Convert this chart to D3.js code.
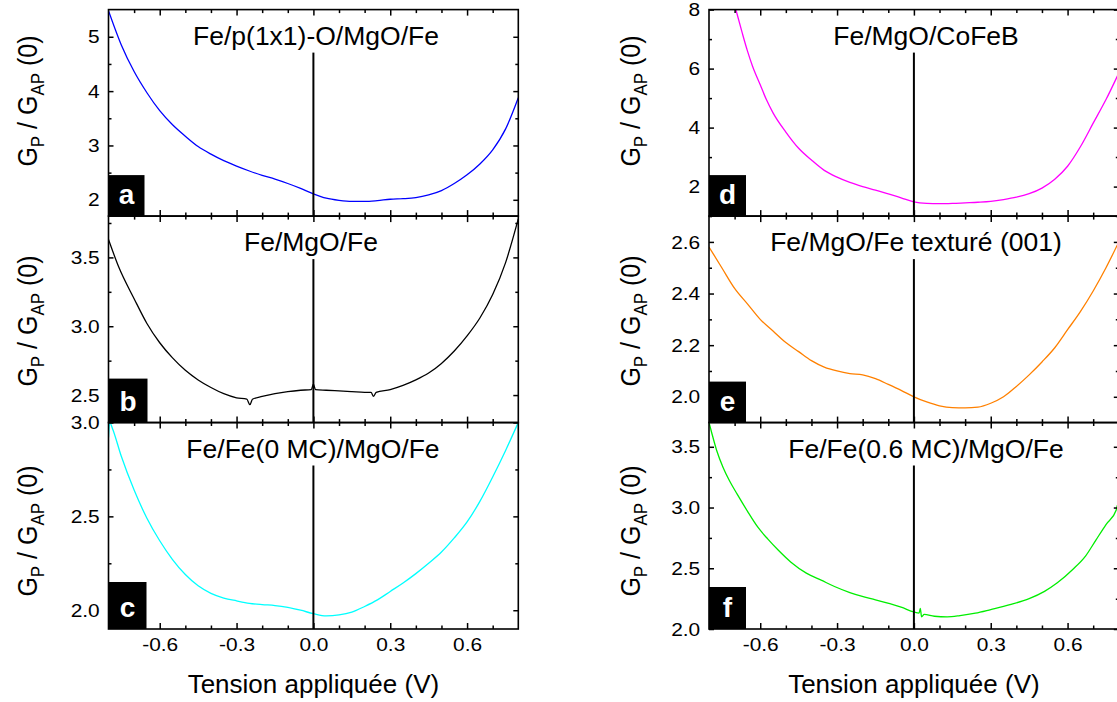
<!DOCTYPE html>
<html><head><meta charset="utf-8">
<script src="https://cdn.jsdelivr.net/npm/d3@7"></script>
<style>
body{margin:0;background:#fff}
text{font-family:"Liberation Sans",Arial,sans-serif;fill:#000}
</style></head>
<body><svg id="chart" width="1117" height="702"></svg>
<script>
// ---------------- DATA ----------------
const xDomain = [-0.8, 0.8];
const xTickValues = [-0.6, -0.3, 0.0, 0.3, 0.6];
const xMinorValues = [-0.7, -0.5, -0.4, -0.2, -0.1, 0.1, 0.2, 0.4, 0.5, 0.7];
const xAxisLabel = "Tension appliquée (V)";

const titles = ["Fe/p(1x1)-O/MgO/Fe", "Fe/MgO/Fe", "Fe/Fe(0 MC)/MgO/Fe",
                "Fe/MgO/CoFeB", "Fe/MgO/Fe texturé (001)", "Fe/Fe(0.6 MC)/MgO/Fe"];
const panelLetters = ["a", "b", "c", "d", "e", "f"];

const yDomainA = [1.7, 5.5],  yTicksA = [2, 3, 4, 5],         yMinorA = [2.5, 3.5, 4.5];
const yDomainB = [2.3, 3.8],  yTicksB = [2.5, 3.0, 3.5],      yMinorB = [2.75, 3.25, 3.75];
const yDomainC = [1.9, 3.0],  yTicksC = [2.0, 2.5, 3.0],      yMinorC = [2.25, 2.75];
const yDomainD = [1, 8],      yTicksD = [2, 4, 6, 8],         yMinorD = [1, 3, 5, 7];
const yDomainE = [1.9, 2.7],  yTicksE = [2.0, 2.2, 2.4, 2.6], yMinorE = [2.1, 2.3, 2.5];
const yDomainF = [2.0, 3.7],  yTicksF = [2.0, 2.5, 3.0, 3.5], yMinorF = [2.25, 2.75, 3.25];

// curves: [V, GP/GAP(0)]
const curveA = [[-0.8,5.48],[-0.75,4.85],[-0.7,4.36],[-0.65,3.97],[-0.6,3.64],[-0.55,3.38],[-0.5,3.17],
 [-0.45,2.98],[-0.4,2.84],[-0.35,2.72],[-0.3,2.62],[-0.25,2.53],[-0.2,2.45],[-0.15,2.38],
 [-0.1,2.30],[-0.05,2.21],[0,2.11],[0.05,2.03],[0.1,1.99],[0.15,1.97],[0.2,1.97],[0.25,1.985],[0.3,2.01],
 [0.35,2.02],[0.4,2.04],[0.45,2.09],[0.5,2.17],[0.55,2.30],[0.6,2.46],[0.65,2.66],[0.7,2.92],[0.75,3.30],[0.8,3.88]];
const curveB = [[-0.8,3.63],[-0.76,3.43],[-0.7,3.20],[-0.65,3.02],[-0.6,2.88],[-0.55,2.77],[-0.5,2.68],
 [-0.45,2.61],[-0.4,2.555],[-0.35,2.51],[-0.3,2.48],[-0.26,2.47],[-0.248,2.43],[-0.238,2.47],[-0.2,2.49],
 [-0.15,2.51],[-0.1,2.525],[-0.05,2.535],[-0.008,2.54],[0,2.58],[0.008,2.54],[0.05,2.535],[0.1,2.53],
 [0.15,2.525],[0.2,2.52],[0.225,2.52],[0.235,2.49],[0.245,2.52],[0.3,2.54],[0.35,2.57],[0.4,2.61],
 [0.45,2.66],[0.5,2.73],[0.55,2.82],[0.6,2.93],[0.65,3.06],[0.7,3.23],[0.75,3.46],[0.8,3.78]];
const curveC = [[-0.8,2.92],[-0.795,3.0],[-0.785,2.97],[-0.75,2.82],[-0.7,2.64],[-0.65,2.49],[-0.6,2.37],
 [-0.55,2.27],[-0.5,2.19],[-0.45,2.13],[-0.4,2.09],[-0.35,2.065],[-0.3,2.05],[-0.25,2.037],[-0.2,2.03],
 [-0.15,2.025],[-0.1,2.015],[-0.05,2.0],[0,1.982],[0.05,1.97],[0.1,1.975],[0.15,1.99],[0.2,2.02],
 [0.25,2.055],[0.3,2.10],[0.35,2.145],[0.4,2.195],[0.45,2.25],[0.5,2.31],[0.55,2.385],[0.6,2.47],
 [0.65,2.58],[0.7,2.71],[0.75,2.85],[0.8,3.0]];
const curveD = [[-0.72,8.8],[-0.695,8.0],[-0.67,7.2],[-0.65,6.6],[-0.63,6.08],[-0.6,5.45],[-0.576,4.95],
 [-0.55,4.5],[-0.5,3.85],[-0.45,3.3],[-0.4,2.9],[-0.35,2.55],[-0.3,2.32],[-0.25,2.14],[-0.2,2.0],
 [-0.15,1.88],[-0.1,1.75],[-0.05,1.62],[0,1.48],[0.05,1.43],[0.1,1.42],[0.15,1.43],[0.2,1.45],[0.25,1.47],
 [0.3,1.5],[0.35,1.56],[0.4,1.64],[0.45,1.76],[0.5,1.95],[0.55,2.25],[0.6,2.69],[0.65,3.35],[0.7,4.15],
 [0.75,4.95],[0.8,5.85]];
const curveE = [[-0.8,2.58],[-0.75,2.50],[-0.7,2.42],[-0.65,2.36],[-0.6,2.30],[-0.55,2.255],[-0.5,2.21],
 [-0.45,2.175],[-0.4,2.14],[-0.35,2.115],[-0.3,2.10],[-0.25,2.09],[-0.2,2.085],[-0.15,2.07],[-0.1,2.048],
 [-0.05,2.025],[0,2.0],[0.05,1.98],[0.1,1.965],[0.15,1.958],[0.2,1.957],[0.25,1.96],[0.3,1.975],
 [0.35,2.0],[0.4,2.04],[0.45,2.085],[0.5,2.135],[0.55,2.19],[0.6,2.26],[0.65,2.33],[0.7,2.41],
 [0.75,2.50],[0.8,2.60]];
const curveF = [[-0.8,3.70],[-0.79,3.62],[-0.77,3.47],[-0.745,3.33],[-0.72,3.22],[-0.69,3.11],[-0.65,2.97],
 [-0.61,2.84],[-0.57,2.74],[-0.53,2.65],[-0.48,2.55],[-0.42,2.46],[-0.36,2.40],[-0.31,2.35],[-0.25,2.30],
 [-0.205,2.27],[-0.15,2.24],[-0.098,2.21],[-0.05,2.18],[0,2.14],[0.02,2.13],[0.025,2.17],[0.03,2.10],
 [0.04,2.12],[0.08,2.105],[0.13,2.10],[0.18,2.11],[0.24,2.13],[0.3,2.16],[0.375,2.20],[0.45,2.25],
 [0.51,2.31],[0.56,2.38],[0.62,2.49],[0.67,2.60],[0.71,2.73],[0.75,2.86],[0.79,2.98],[0.795,3.02],[0.8,3.0]];

// ---------------- LAYOUT / STYLE ----------------
const colX = [108.5, 709];
const colW = 409.8;
const rowY = [9.6, 216.1, 422.5];
const rowH = 206.5;
const yLabelCenter = [101, 321, 531];
const yLabelBase = [37, 640];

const panels = [
  {col:0,row:0,data:curveA,color:"#0000ff",dom:yDomainA,ticks:yTicksA,minor:yMinorA,fmt:"d",  tx:316,bw:36,bh:41},
  {col:0,row:1,data:curveB,color:"#000000",dom:yDomainB,ticks:yTicksB,minor:yMinorB,fmt:".1f",tx:311,bw:39,bh:44},
  {col:0,row:2,data:curveC,color:"#00ffff",dom:yDomainC,ticks:yTicksC,minor:yMinorC,fmt:".1f",tx:313,bw:38,bh:47},
  {col:1,row:0,data:curveD,color:"#ff00ff",dom:yDomainD,ticks:yTicksD,minor:yMinorD,fmt:"d",  tx:926,bw:37,bh:41},
  {col:1,row:1,data:curveE,color:"#ff8000",dom:yDomainE,ticks:yTicksE,minor:yMinorE,fmt:".1f",tx:916,bw:37,bh:41},
  {col:1,row:2,data:curveF,color:"#00ee00",dom:yDomainF,ticks:yTicksF,minor:yMinorF,fmt:".1f",tx:926,bw:37,bh:42}
];

const svg = d3.select("#chart");
const tickFont = 19, tickStretch = 1.1;
const hyphenFmt = f => (v => d3.format(f)(v).replace("\u2212", "-"));

panels.forEach((p, i) => {
  const x0 = colX[p.col], y0 = rowY[p.row];
  const g = svg.append("g").attr("transform", `translate(${x0},${y0})`);
  const x = d3.scaleLinear().domain(xDomain).range([0, colW]);
  const y = d3.scaleLinear().domain(p.dom).range([rowH, 0]);

  const cid = "clip" + i;
  g.append("clipPath").attr("id", cid).append("rect").attr("width", colW).attr("height", rowH);

  // curve
  g.append("path").datum(p.data)
    .attr("clip-path", `url(#${cid})`)
    .attr("fill", "none").attr("stroke", p.color).attr("stroke-width", 1.3)
    .attr("d", d3.line().x(d => x(d[0])).y(d => y(d[1])).curve(d3.curveMonotoneX));

  // title
  g.append("text").attr("x", p.tx - x0).attr("y", 35)
    .attr("text-anchor", "middle").attr("font-size", 26.5).text(titles[i]);

  // zero line (starts below title)
  g.append("line").attr("x1", x(0)).attr("x2", x(0))
    .attr("y1", 43).attr("y2", rowH).attr("stroke", "#000").attr("stroke-width", 2);

  // axes
  const styleAxis = sel => { sel.select(".domain").remove(); sel.selectAll("line").attr("stroke","#000").attr("stroke-width",1.5); };
  const bottom = g.append("g").attr("transform", `translate(0,${rowH})`)
    .call(d3.axisBottom(x).tickValues(xTickValues).tickSize(-6).tickSizeOuter(0).tickPadding(9)
      .tickFormat(p.row === 2 ? hyphenFmt(".1f") : () => ""));
  styleAxis(bottom);
  bottom.selectAll("text").attr("font-size", tickFont).attr("font-family", "Liberation Sans, Arial, sans-serif")
    .attr("transform", `scale(${tickStretch},1)`);
  styleAxis(g.append("g").attr("transform", `translate(0,${rowH})`)
    .call(d3.axisBottom(x).tickValues(xMinorValues).tickSize(-3.5).tickSizeOuter(0).tickFormat(() => "")));
  styleAxis(g.append("g").call(d3.axisTop(x).tickValues(xTickValues).tickSize(-6).tickSizeOuter(0).tickFormat(() => "")));
  styleAxis(g.append("g").call(d3.axisTop(x).tickValues(xMinorValues).tickSize(-3.5).tickSizeOuter(0).tickFormat(() => "")));

  const left = g.append("g").call(d3.axisLeft(y).tickValues(p.ticks).tickSize(-5).tickSizeOuter(0)
    .tickPadding(8).tickFormat(hyphenFmt(p.fmt)));
  styleAxis(left);
  left.selectAll("text").attr("font-size", tickFont).attr("font-family", "Liberation Sans, Arial, sans-serif")
    .attr("transform", `scale(${tickStretch},1)`);
  styleAxis(g.append("g").call(d3.axisLeft(y).tickValues(p.minor).tickSize(-3).tickSizeOuter(0).tickFormat(() => "")));
  styleAxis(g.append("g").attr("transform", `translate(${colW},0)`)
    .call(d3.axisRight(y).tickValues(p.ticks).tickSize(-5).tickSizeOuter(0).tickFormat(() => "")));
  styleAxis(g.append("g").attr("transform", `translate(${colW},0)`)
    .call(d3.axisRight(y).tickValues(p.minor).tickSize(-3).tickSizeOuter(0).tickFormat(() => "")));

  // frame
  g.append("rect").attr("width", colW).attr("height", rowH)
    .attr("fill", "none").attr("stroke", "#000").attr("stroke-width", 1.6);

  // letter box
  g.append("rect").attr("x", 0).attr("y", rowH - p.bh).attr("width", p.bw).attr("height", p.bh).attr("fill", "#000");
  g.append("text").attr("x", p.bw / 2).attr("y", rowH - 12).attr("text-anchor", "middle")
    .attr("font-family", "Liberation Serif, Times New Roman, serif").attr("font-weight", "bold")
    .attr("font-size", 28).style("fill", "#fff").text(panelLetters[i]);

  // y label
  const yl = svg.append("text")
    .attr("transform", `translate(${yLabelBase[p.col]},${yLabelCenter[p.row]}) scale(1.12,1) rotate(-90)`)
    .attr("text-anchor", "middle").attr("font-size", 25);
  yl.append("tspan").text("G");
  yl.append("tspan").attr("dy", 6).attr("font-size", 17).text("P");
  yl.append("tspan").attr("dy", -6).text(" / G");
  yl.append("tspan").attr("dy", 6).attr("font-size", 17).text("AP");
  yl.append("tspan").attr("dy", -6).text(" (0)");

  // x label
  if (p.row === 2) {
    svg.append("text").attr("x", x0 + x(0)).attr("y", 693).attr("text-anchor", "middle")
      .attr("font-size", 26).text(xAxisLabel);
  }
});
</script></body></html>
